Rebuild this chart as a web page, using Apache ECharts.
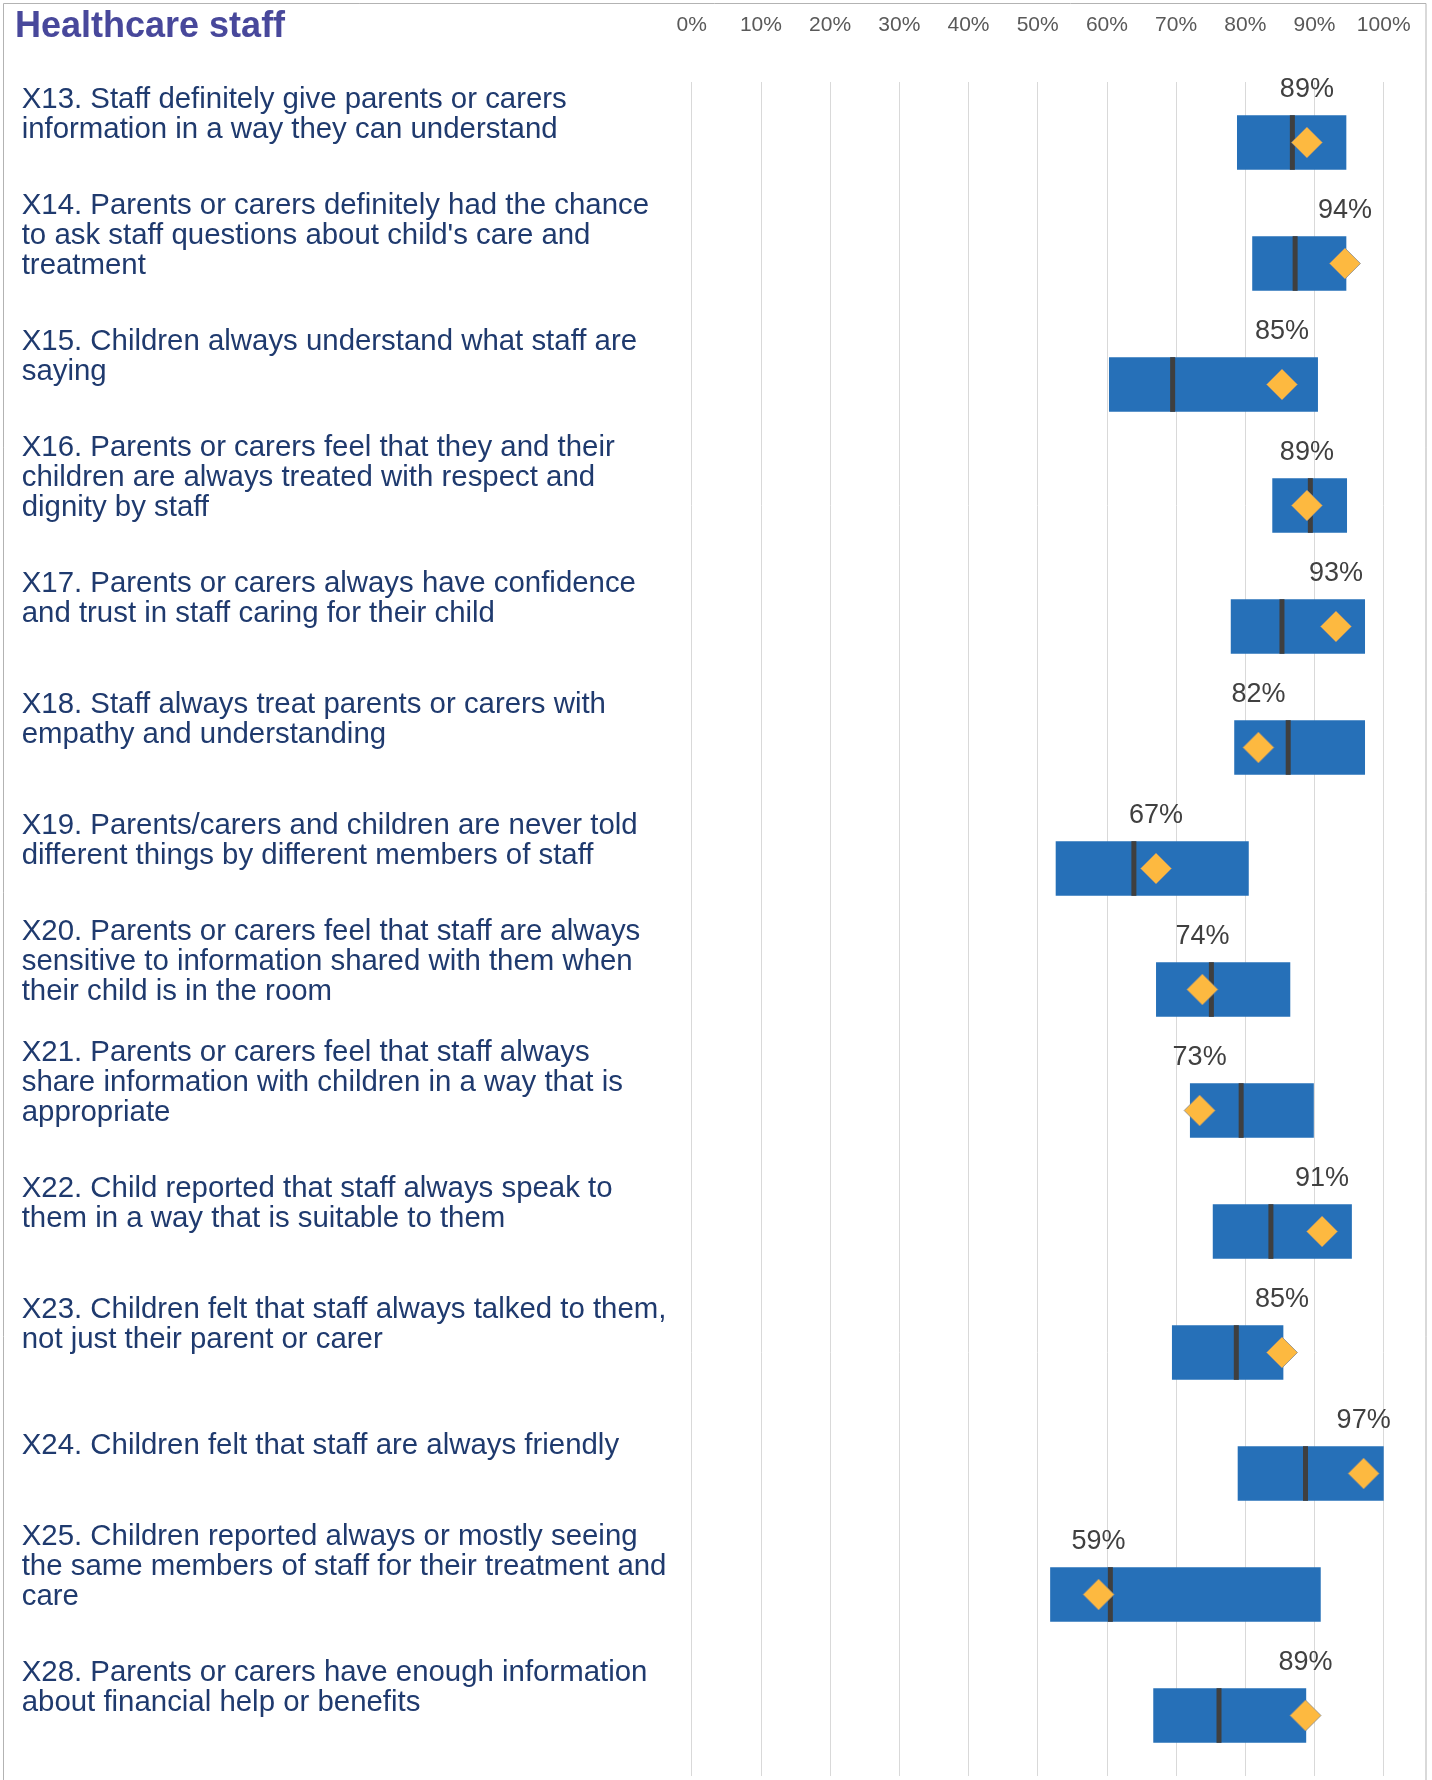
<!DOCTYPE html>
<html>
<head>
<meta charset="utf-8">
<script src="https://cdn.jsdelivr.net/npm/echarts@6/dist/echarts.min.js"></script>
<style>
html,body{margin:0;padding:0;background:#fff;}
#chart{width:1432px;height:1780px;}
</style>
</head>
<body>
<div id="chart"></div>
<script>
const categories = [
  "X13. Staff definitely give parents or carers\ninformation in a way they can understand",
  "X14. Parents or carers definitely had the chance\nto ask staff questions about child's care and\ntreatment",
  "X15. Children always understand what staff are\nsaying",
  "X16. Parents or carers feel that they and their\nchildren are always treated with respect and\ndignity by staff",
  "X17. Parents or carers always have confidence\nand trust in staff caring for their child",
  "X18. Staff always treat parents or carers with\nempathy and understanding",
  "X19. Parents/carers and children are never told\ndifferent things by different members of staff",
  "X20. Parents or carers feel that staff are always\nsensitive to information shared with them when\ntheir child is in the room",
  "X21. Parents or carers feel that staff always\nshare information with children in a way that is\nappropriate",
  "X22. Child reported that staff always speak to\nthem in a way that is suitable to them",
  "X23. Children felt that staff always talked to them,\nnot just their parent or carer",
  "X24. Children felt that staff are always friendly",
  "X25. Children reported always or mostly seeing\nthe same members of staff for their treatment and\ncare",
  "X28. Parents or carers have enough information\nabout financial help or benefits"
];
const rangeLow  = [78.8, 81.0, 60.3, 83.9, 77.9, 78.4, 52.6, 67.1, 72.0, 75.3, 69.4, 78.9, 51.8, 66.7];
const rangeHigh = [94.6, 94.6, 90.5, 94.7, 97.3, 97.3, 80.5, 86.5, 89.9, 95.4, 85.5, 100.0, 90.9, 88.8];
const median    = [86.8, 87.2, 69.5, 89.4, 85.3, 86.2, 63.9, 75.1, 79.4, 83.7, 78.7, 88.7, 60.5, 76.2];
const score     = [88.9, 94.4, 85.3, 88.9, 93.1, 81.9, 67.1, 73.8, 73.4, 91.1, 85.3, 97.1, 58.8, 88.7];
const tickLabels = ["0%","10%","20%","30%","40%","50%","60%","70%","80%","90%","100%"];

const FONT = "'Liberation Sans', Arial, sans-serif";
const chart = echarts.init(document.getElementById('chart'), null, {renderer:'canvas'});

const boxData = categories.map((c, i) => [i, rangeLow[i], rangeHigh[i], median[i]]);
const scoreData = categories.map((c, i) => [score[i], i]);

chart.setOption({
  animation: false,
  backgroundColor: '#ffffff',
  title: {
    text: 'Healthcare staff',
    left: 10, top: 4,
    textStyle: {fontFamily: FONT, fontSize: 36, fontWeight: 'bold', color: '#48489B'}
  },
  graphic: [{
    type: 'rect',
    shape: {x: 3.5, y: 3.5, width: 1422.5, height: 1800},
    style: {fill: 'none', stroke: '#b3b3b3', lineWidth: 1},
    silent: true, z: -10
  }],
  grid: [
    {left: 691.7, right: 48.3, top: 82, height: 1694},
    {left: 691.7, right: 48.3, top: 54, height: 1694}
  ],
  xAxis: [
    {
      type: 'value', gridIndex: 0, position: 'top', min: 0, max: 100, interval: 10,
      axisLine: {show: false}, axisTick: {show: false},
      axisLabel: {
        formatter: v => tickLabels[Math.round(v / 10)],
        fontFamily: FONT, fontSize: 21, color: '#595959',
        margin: 57, verticalAlign: 'middle'
      },
      splitLine: {show: true, lineStyle: {color: '#d9d9d9', width: 1}}
    },
    {
      type: 'value', gridIndex: 1, min: 0, max: 100, show: false
    }
  ],
  yAxis: [
    {
      type: 'category', gridIndex: 0, data: categories, inverse: true,
      axisLine: {show: false}, axisTick: {show: false}, splitLine: {show: false},
      axisLabel: {show: false}
    },
    {
      type: 'category', gridIndex: 1, data: categories, inverse: true,
      axisLine: {show: false}, axisTick: {show: false}, splitLine: {show: false},
      axisLabel: {
        show: true, interval: 0, showMinLabel: true, showMaxLabel: true, hideOverlap: false,
        align: 'left', margin: 670, fontFamily: FONT, fontSize: 29.4, lineHeight: 30,
        color: '#1F3A6E', verticalAlign: 'middle'
      }
    }
  ],
  series: [
    {
      type: 'custom',
      xAxisIndex: 0, yAxisIndex: 0,
      data: boxData,
      encode: {x: [1, 2, 3], y: 0},
      renderItem: function (params, api) {
        const i = api.value(0);
        const p0 = api.coord([api.value(1), i]);
        const p1 = api.coord([api.value(2), i]);
        const pm = api.coord([api.value(3), i]);
        const band = api.size([0, 1])[1];
        const h = band * 0.452;
        return {
          type: 'group',
          children: [
            {type: 'rect', shape: {x: p0[0], y: p0[1] - h / 2, width: p1[0] - p0[0], height: h},
             style: {fill: '#2670B8'}},
            {type: 'rect', shape: {x: pm[0] - 2.5, y: p0[1] - h / 2, width: 5, height: h},
             style: {fill: '#3F3F3F'}}
          ]
        };
      },
      z: 2
    },
    {
      type: 'scatter',
      xAxisIndex: 0, yAxisIndex: 0,
      data: scoreData,
      symbol: 'diamond',
      symbolSize: [31, 31],
      itemStyle: {color: '#FDB940', borderColor: '#8a8a8a', borderWidth: 0.8, opacity: 1},
      label: {
        show: true, position: 'top', distance: 24,
        formatter: p => Math.round(p.value[0]) + '%',
        fontFamily: FONT, fontSize: 27, color: '#404040'
      },
      z: 3
    }
  ]
});
</script>
</body>
</html>
